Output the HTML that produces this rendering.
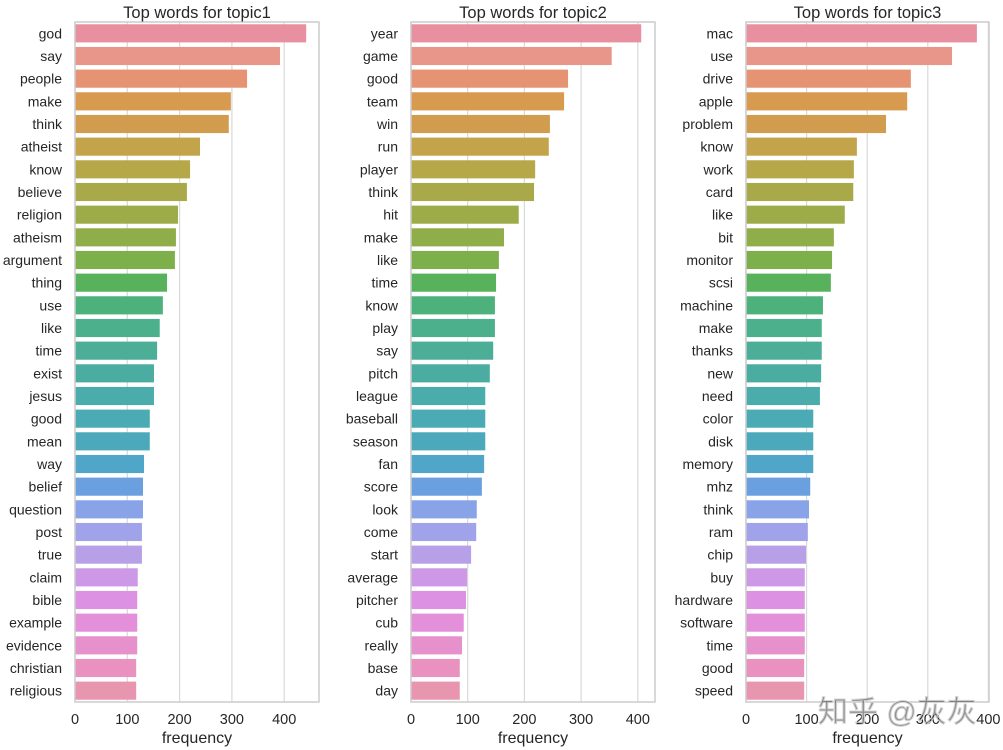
<!DOCTYPE html>
<html><head><meta charset="utf-8"><style>
html,body{margin:0;padding:0;background:#fff}
svg{display:block}
text{font-family:"Liberation Sans","Noto Sans CJK SC",sans-serif;fill:#262626}
</style></head><body>
<svg id="chart" width="1003" height="750" viewBox="0 0 1003 750" xmlns="http://www.w3.org/2000/svg"></svg>
<script>
const words1 = ["god","say","people","make","think","atheist","know","believe","religion","atheism","argument","thing","use","like","time","exist","jesus","good","mean","way","belief","question","post","true","claim","bible","example","evidence","christian","religious"];
const freq1 = [442,392,329,298,294,239,220,214,197,193,191,176,168,162,157,151,151,143,143,132,130,130,128,128,120,119,119,119,117,117];
const words2 = ["year","game","good","team","win","run","player","think","hit","make","like","time","know","play","say","pitch","league","baseball","season","fan","score","look","come","start","average","pitcher","cub","really","base","day"];
const freq2 = [406,354,277,270,245,243,219,217,190,164,155,150,148,148,145,139,131,131,131,129,125,116,115,106,99,97,93,90,86,86];
const words3 = ["mac","use","drive","apple","problem","know","work","card","like","bit","monitor","scsi","machine","make","thanks","new","need","color","disk","memory","mhz","think","ram","chip","buy","hardware","software","time","good","speed"];
const freq3 = [381,340,272,266,231,183,178,177,163,145,142,140,127,125,125,124,122,111,111,111,106,104,102,99,97,97,97,97,96,96];
const ticks = [0,100,200,300,400];
const titles = ["Top words for topic1","Top words for topic2","Top words for topic3"];

const colors = ['#e8909f','#e9968a','#e59373','#d89a4f','#d19c4d','#c4a44b','#b6a748','#aaa94a','#9dac49','#8fae4a','#7db04a','#58b25c','#4db17b','#4cb08c','#4cae97','#4bada2','#4bacac','#4aabb5','#4ca9bc','#50a6c8','#6aa0e0','#88a3e8','#a0a2ea','#b8a0e8','#cd99e7','#dc91e3','#e48fd9','#e791cc','#e992bf','#e895b0'];
const panels = [
  {x0:75, x1:319, pxPer:0.523, words:words1, vals:freq1},
  {x0:411, x1:655, pxPer:0.567, words:words2, vals:freq2},
  {x0:746, x1:989, pxPer:0.606, words:words3, vals:freq3}
];
const yTop = 22, yBottom = 702;
const NS = "http://www.w3.org/2000/svg";
const svg = document.getElementById('chart');
function mk(tag, attrs, parent){const e=document.createElementNS(NS,tag);for(const k in attrs)e.setAttribute(k,attrs[k]);(parent||svg).appendChild(e);return e;}

panels.forEach((p,pi)=>{
  const g = mk('g',{});
  
  
  const xs = v => p.x0 + v*p.pxPer;
  const n = p.words.length;
  const band = (yBottom-yTop)/n;
  const ys = i => yTop + band*i;
  ticks.forEach(t=>{
    const x = xs(t);
    if (x > p.x1+1) return;
    const l = mk('line',{x1:x,x2:x,y1:yTop,y2:yBottom,stroke:'#d9d9d9','stroke-width':1.2},g);
    
    
    const tl = mk('text',{x:x,y:724,'font-size':14.5,'text-anchor':'middle'},g);
    tl.textContent = t;
    
    
  });
  p.words.forEach((w,i)=>{
    const y = ys(i) + band*0.1;
    const r = mk('rect',{x:p.x0,y:y,width:Math.max(0,xs(p.vals[i])-p.x0),height:band*0.8,fill:colors[i]},g);
    
    
    const t = mk('text',{x:p.x0-13,y:ys(i)+band/2+5,'font-size':14,'text-anchor':'end'},g);
    t.textContent = w;
    
    
  });
  const fr = mk('rect',{x:p.x0,y:yTop,width:p.x1-p.x0,height:yBottom-yTop,fill:'none',stroke:'#cccccc','stroke-width':1.5},g);
  
  
  const ti = mk('text',{x:(p.x0+p.x1)/2,y:18,'font-size':16.5,'text-anchor':'middle'},g);
  ti.textContent = titles[pi];
  
  
  const xl = mk('text',{x:(p.x0+p.x1)/2,y:743,'font-size':16,'text-anchor':'middle'},g);
  xl.textContent = 'frequency';
  
  
});
const wm = mk('text',{x:818,y:722,'font-size':30,fill:'#ffffff',stroke:'#d4d4d4','stroke-width':1,'fill-opacity':0.5});
wm.textContent = '知乎 @灰灰';


</script>
</body></html>
